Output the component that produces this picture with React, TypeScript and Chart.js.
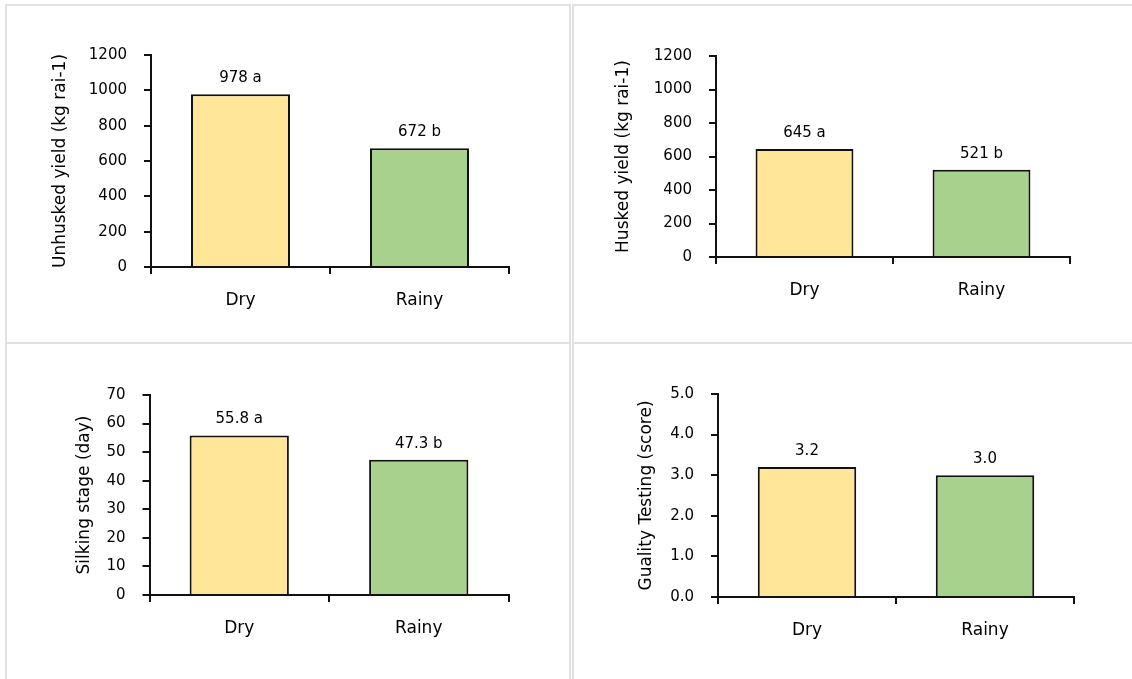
import React, { useEffect, useRef } from 'react';
import { Chart, registerables } from 'chart.js';

Chart.register(...registerables);

const FONT = "'DejaVu Sans', Verdana, sans-serif";

// ---- data ----
const categories = ['Dry', 'Rainy'];
const barColors = ['#FFE699', '#A9D18E'];

const unhuskedValues = [978, 672];
const unhuskedLabels = ['978 a', '672 b'];

const huskedValues = [645, 521];
const huskedLabels = ['645 a', '521 b'];

const silkingValues = [55.8, 47.3];
const silkingLabels = ['55.8 a', '47.3 b'];

const qualityValues = [3.2, 3.0];
const qualityLabels = ['3.2', '3.0'];

const valueLabelPlugin = {
  id: 'valueLabels',
  afterDatasetsDraw(chart: any, _args: any, opts: any) {
    const ctx = chart.ctx;
    const meta = chart.getDatasetMeta(0);
    const texts: string[] = opts.texts || [];
    ctx.save();
    ctx.font = `15px ${FONT}`;
    ctx.fillStyle = '#000';
    ctx.textAlign = 'center';
    ctx.textBaseline = 'middle';
    meta.data.forEach((bar: any, i: number) => {
      ctx.fillText(texts[i], bar.x, bar.y - 16);
    });
    ctx.restore();
  },
};

type PanelProps = {
  rect: { x: number; y: number; w: number; h: number };
  values: number[];
  texts: string[];
  title: string;
  max: number;
  step: number;
  decimals: number;
  pad: { left: number; top: number; right: number; bottom: number };
  yWidth: number;
  xHeight: number;
};

function Panel(p: PanelProps) {
  const ref = useRef<HTMLCanvasElement>(null);
  useEffect(() => {
    const axisGrid = {
      drawOnChartArea: false,
      drawTicks: true,
      tickLength: 7,
      color: '#111',
      lineWidth: 2,
    };
    const chart = new Chart(ref.current as HTMLCanvasElement, {
      type: 'bar',
      data: {
        labels: categories,
        datasets: [
          {
            data: p.values,
            backgroundColor: barColors,
            borderColor: '#111',
            borderWidth: 2,
            borderSkipped: 'start',
            barPercentage: 0.553,
            categoryPercentage: 1,
          },
        ],
      },
      options: {
        animation: false,
        responsive: false,
        maintainAspectRatio: false,
        layout: { padding: p.pad },
        plugins: {
          legend: { display: false },
          tooltip: { enabled: false },
          // @ts-ignore
          valueLabels: { texts: p.texts },
        },
        scales: {
          x: {
            grid: { ...axisGrid, offset: true },
            border: { color: '#111', width: 2 },
            ticks: { font: { family: FONT, size: 17 }, color: '#000', padding: 16 },
            afterFit: (s: any) => {
              s.height = p.xHeight;
            },
          },
          y: {
            min: 0,
            max: p.max,
            grid: axisGrid,
            border: { color: '#111', width: 2 },
            ticks: {
              stepSize: p.step,
              font: { family: FONT, size: 15 },
              color: '#000',
              padding: 17,
              callback: (v: any) => Number(v).toFixed(p.decimals),
            },
            title: {
              display: true,
              text: p.title,
              font: { family: FONT, size: 17 },
              color: '#000',
              padding: 0,
            },
            afterFit: (s: any) => {
              s.width = p.yWidth;
            },
          },
        },
      },
      plugins: [valueLabelPlugin],
    } as any);
    return () => chart.destroy();
  }, []);
  return (
    <canvas
      ref={ref}
      width={p.rect.w}
      height={p.rect.h}
      style={{ position: 'absolute', left: p.rect.x, top: p.rect.y, width: p.rect.w, height: p.rect.h }}
    />
  );
}

const cellStyle = (l: number, t: number, w: number, h: number): React.CSSProperties => ({
  position: 'absolute',
  left: l,
  top: t,
  width: w,
  height: h,
  border: '2px solid #e1e1e1',
  boxSizing: 'border-box',
});

export default function App() {
  return (
    <div
      style={{
        position: 'absolute',
        left: 0,
        top: 0,
        width: 1132,
        height: 679,
        overflow: 'hidden',
        background: '#fff',
      }}
    >
      <div style={cellStyle(5, 4, 566, 340)} />
      <div style={cellStyle(572, 4, 564, 340)} />
      <div style={cellStyle(5, 342, 566, 341)} />
      <div style={cellStyle(572, 342, 564, 341)} />
      <Panel
        rect={{ x: 0, y: 0, w: 571, h: 342 }}
        values={unhuskedValues}
        texts={unhuskedLabels}
        title="Unhusked yield (kg rai-1)"
        max={1200}
        step={200}
        decimals={0}
        pad={{ left: 50, top: 55, right: 62, bottom: 0 }}
        yWidth={101}
        xHeight={75}
      />
      <Panel
        rect={{ x: 571, y: 0, w: 561, h: 342 }}
        values={huskedValues}
        texts={huskedLabels}
        title="Husked yield (kg rai-1)"
        max={1200}
        step={200}
        decimals={0}
        pad={{ left: 42, top: 56, right: 62, bottom: 0 }}
        yWidth={103}
        xHeight={85}
      />
      <Panel
        rect={{ x: 0, y: 342, w: 571, h: 337 }}
        values={silkingValues}
        texts={silkingLabels}
        title="Silking stage (day)"
        max={70}
        step={10}
        decimals={0}
        pad={{ left: 74, top: 53, right: 62.5, bottom: 0 }}
        yWidth={75.5}
        xHeight={84}
      />
      <Panel
        rect={{ x: 571, y: 342, w: 561, h: 337 }}
        values={qualityValues}
        texts={qualityLabels}
        title="Guality Testing (score)"
        max={5}
        step={1}
        decimals={1}
        pad={{ left: 65, top: 52, right: 58, bottom: 0 }}
        yWidth={82}
        xHeight={82}
      />
    </div>
  );
}
